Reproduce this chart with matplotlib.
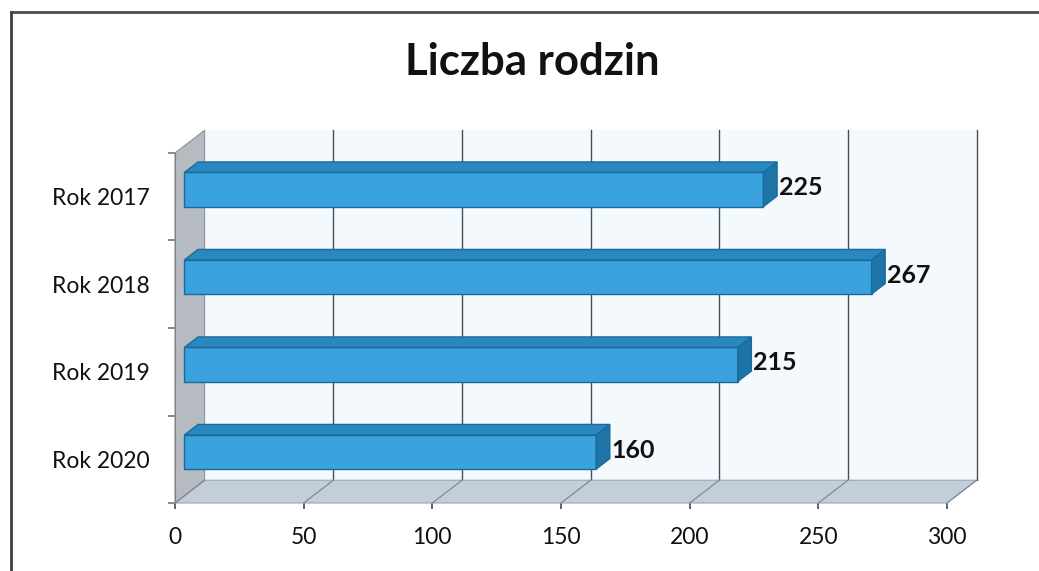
import matplotlib
matplotlib.use("Agg")
import matplotlib.pyplot as plt
from matplotlib.patches import Polygon
from matplotlib.lines import Line2D

# ---- data ----
categories = ["Rok 2017", "Rok 2018", "Rok 2019", "Rok 2020"]
values = [225, 267, 215, 160]
x_ticks = [0, 50, 100, 150, 200, 250, 300]
title = "Liczba rodzin"

plt.rcParams['font.family'] = ['Lato', 'DejaVu Sans']

W, H = 1039, 571
fig = plt.figure(figsize=(W / 100, H / 100), dpi=100)
fig.patch.set_facecolor('white')

# front plane of the 3D box in pixels: x 175..947, y 153..503
ax = fig.add_axes([175 / W, 1 - 503 / H, (947 - 175) / W, (503 - 153) / H])
ax.set_xlim(0, 300)
ax.set_ylim(0, 4)
ax.set_facecolor('none')
for s in ax.spines.values():
    s.set_visible(False)

DX, DY = 11.5, 0.26          # depth of the box (data units)
BF, BB = 0.32, 0.78          # bar front / back depth fraction
BH = 0.39                    # bar thickness

xmax = x_ticks[-1]
ncat = len(categories)
ypos = [ncat - 0.5 - i for i in range(ncat)]

# back wall
ax.add_patch(Polygon([(DX, DY), (xmax + DX, DY), (xmax + DX, ncat + DY), (DX, ncat + DY)],
                     closed=True, facecolor='#f3f9fd', edgecolor='none', zorder=0, clip_on=False))
# gridlines on back wall
for t in x_ticks[1:]:
    ax.plot([t + DX, t + DX], [DY, ncat + DY], color='#44505e', lw=1.0, zorder=1, clip_on=False)
# floor
ax.add_patch(Polygon([(0, 0), (xmax, 0), (xmax + DX, DY), (DX, DY)],
                     closed=True, facecolor='#c4cedb', edgecolor='#9aa6b4', lw=0.8, zorder=2, clip_on=False))
for t in x_ticks:
    ax.plot([t, t + DX], [0, DY], color='#7f8b9a', lw=0.9, zorder=2.1, clip_on=False)
# left wall
ax.add_patch(Polygon([(0, 0), (0, ncat), (DX, ncat + DY), (DX, DY)],
                     closed=True, facecolor='#b6bac1', edgecolor='#8e949c', lw=0.8, zorder=2, clip_on=False))

# bars
front = '#3aa3de'
topc = '#2a88c0'
sidec = '#1f74a6'
edge = '#1b6a9c'
x0f, y0f = BF * DX, BF * DY
x0b, y0b = BB * DX, BB * DY
ax.barh([y + y0f for y in ypos], values, height=BH, left=x0f, color=front,
        edgecolor=edge, linewidth=1.0, zorder=5, clip_on=False)
for y, v in zip(ypos, values):
    yc = y + y0f
    top = [(x0f, yc + BH / 2), (x0f + v, yc + BH / 2),
           (x0b + v, y + y0b + BH / 2), (x0b, y + y0b + BH / 2)]
    side = [(x0f + v, yc - BH / 2), (x0f + v, yc + BH / 2),
            (x0b + v, y + y0b + BH / 2), (x0b + v, y + y0b - BH / 2)]
    ax.add_patch(Polygon(top, closed=True, facecolor=topc, edgecolor=edge, lw=1.0, zorder=6, clip_on=False))
    ax.add_patch(Polygon(side, closed=True, facecolor=sidec, edgecolor=edge, lw=1.0, zorder=6, clip_on=False))
    ax.text(x0b + v + 0.6, y + (y0f + y0b) / 2 - 0.04, str(v), fontsize=18, fontweight='bold',
            color='#111111', ha='left', va='center', zorder=7)

# y axis line
ax.plot([0, 0], [0, ncat], color='#7a818a', lw=0.8, zorder=3, clip_on=False)

# ticks
ax.set_xticks(x_ticks)
ax.set_xticklabels([str(t) for t in x_ticks])
ax.tick_params(axis='x', direction='out', length=4, width=1.2, color='#3d4a58',
               pad=13, labelsize=16.5, labelcolor='#111111')
ax.set_yticks(ypos)
ax.set_yticklabels(categories)
ax.set_yticks(list(range(ncat + 1)), minor=True)
ax.tick_params(axis='y', which='major', length=0, pad=18.5, labelsize=16.5, labelcolor='#111111')
ax.tick_params(axis='y', which='minor', direction='out', length=5, width=1.2, color='#6f7782')

# title
fig.text(532 / W, 1 - 62 / H, title, fontsize=31.5, fontweight='bold', color='#111111',
         ha='center', va='center')

# outer frame (top and left edges visible)
fig.add_artist(Line2D([11 / W, 1.0], [1 - 12 / H, 1 - 12 / H], color='#4a5058', lw=2, transform=fig.transFigure))
fig.add_artist(Line2D([11 / W, 11 / W], [0, 1 - 12 / H], color='#3a3f45', lw=2, transform=fig.transFigure))

fig.savefig('out.png', dpi=100)
